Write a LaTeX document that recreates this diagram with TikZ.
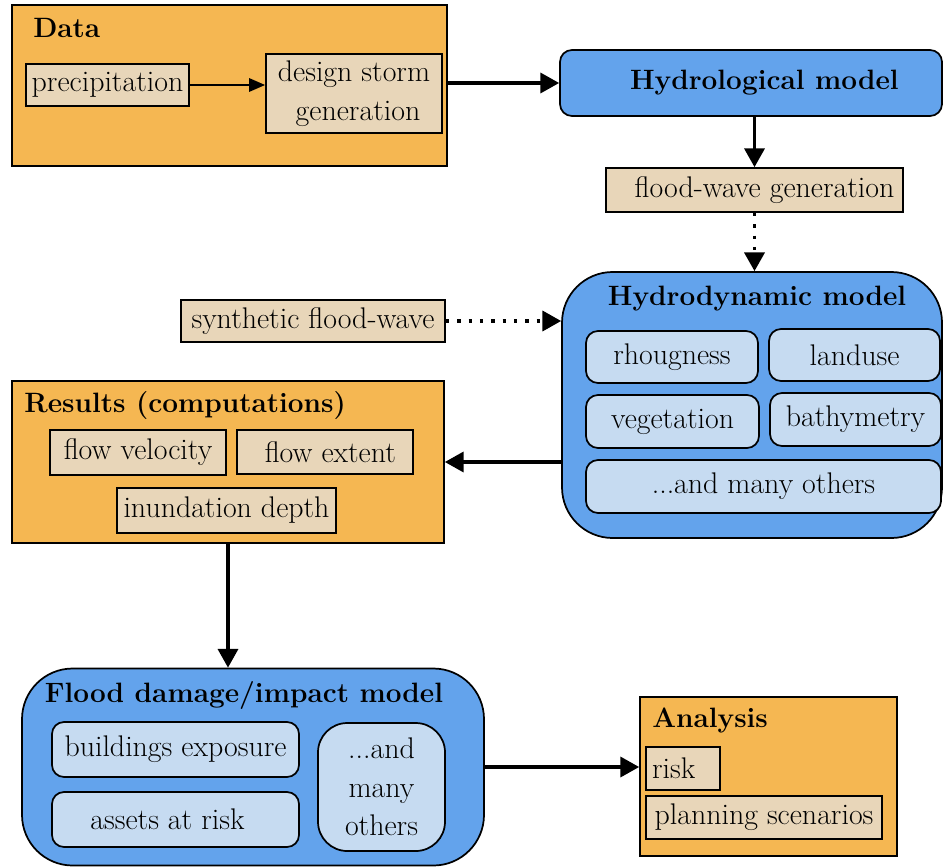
\documentclass[tikz,border=0pt]{standalone}
\usetikzlibrary{arrows.meta}
\definecolor{orangebox}{HTML}{F5B752}
\definecolor{tanbox}{HTML}{E8D6B9}
\definecolor{bluebox}{HTML}{63A3EC}
\definecolor{lightblue}{HTML}{C6DBF1}
\begin{document}
\begin{tikzpicture}[x=0.75pt,y=-0.75pt,
  every node/.style={font=\fontsize{22.4}{29}\selectfont, inner sep=0pt},
  group/.style={draw=black, line width=1.3pt, fill=orangebox},
  item/.style={draw=black, line width=1.3pt, fill=tanbox, align=center},
  model/.style={draw=black, line width=1.3pt, fill=bluebox},
  sub/.style={draw=black, line width=1.3pt, fill=lightblue, rounded corners=9pt, align=center},
  title/.style={font=\fontsize{21}{29}\selectfont\bfseries},
  flow/.style={line width=2.4pt, -{Triangle[length=14pt,width=15pt]}},
  thinflow/.style={line width=1.5pt, -{Triangle[length=12pt,width=10pt]}},
  dotflow/.style={line width=2.6pt, dash pattern=on 2.5pt off 6pt, -{Triangle[length=14pt,width=15pt]}}]
\useasboundingbox (0,0) rectangle (944,867);

% Data
\node[group, minimum width=435*0.75pt, minimum height=161*0.75pt] (data) at (229.5,85.5) {};
\node[title, anchor=west] (datat) at (33,28) {Data};
\node[item, minimum width=163*0.75pt, minimum height=42*0.75pt] (precip) at (107.5,85) {precipitation};
\node[item, minimum width=176*0.75pt, minimum height=79*0.75pt] (design) at (354,93.5) {design storm\\ \hspace*{6pt}generation};

% Hydrological
\node[model, rounded corners=9pt, minimum width=382*0.75pt, minimum height=66*0.75pt, title] (hydrol) at (751,83) {\hspace*{20pt}Hydrological model};
\node[item, minimum width=297*0.75pt, minimum height=44*0.75pt] (fw) at (754.5,190) {\hspace*{15pt}flood-wave generation};

% Hydrodynamic
\node[model, rounded corners=38pt, minimum width=380*0.75pt, minimum height=266*0.75pt] (hydrodyn) at (752,405) {};
\node[title] (hydrodynt) at (757,299) {Hydrodynamic model};
\node[sub, minimum width=172*0.75pt, minimum height=52*0.75pt] (rhoug) at (672,357) {rhougness};
\node[sub, minimum width=171*0.75pt, minimum height=52*0.75pt] (landuse) at (854.5,355) {landuse};
\node[sub, minimum width=173*0.75pt, minimum height=53*0.75pt] (veget) at (672.5,421.5) {vegetation};
\node[sub, minimum width=171*0.75pt, minimum height=53*0.75pt] (bathy) at (855.5,419.5) {bathymetry};
\node[sub, minimum width=355*0.75pt, minimum height=53*0.75pt] (others) at (763.5,486.5) {...and many others};

\node[item, minimum width=264*0.75pt, minimum height=42*0.75pt] (synth) at (313,321) {synthetic flood-wave};

% Results
\node[group, minimum width=432*0.75pt, minimum height=162*0.75pt] (results) at (228,462) {};
\node[title, anchor=west] (resultst) at (24,406) {Results (computations)};
\node[item, minimum width=176*0.75pt, minimum height=45*0.75pt] (fv) at (138,452.5) {flow velocity};
\node[item, minimum width=176*0.75pt, minimum height=44*0.75pt] (fe) at (325,452) {\hspace*{8pt}flow extent};
\node[item, minimum width=219*0.75pt, minimum height=45*0.75pt] (id) at (226.5,510.5) {inundation depth};

% Flood damage
\node[model, rounded corners=38pt, minimum width=462*0.75pt, minimum height=197*0.75pt] (flood) at (253,767) {};
\node[title] (floodt) at (244,695) {Flood damage/impact model};
\node[sub, minimum width=247*0.75pt, minimum height=55*0.75pt] (be) at (175.5,749.5) {buildings exposure};
\node[sub, minimum width=247*0.75pt, minimum height=55*0.75pt] (ar) at (175.5,819.5) {\hspace*{-12pt}assets at risk};
\node[sub, rounded corners=22pt, minimum width=127*0.75pt, minimum height=128*0.75pt] (mo) at (381.5,787) {...and\\many\\others};

% Analysis
\node[group, minimum width=257*0.75pt, minimum height=159*0.75pt] (analysis) at (768.5,776.5) {};
\node[title, anchor=west] (analysist) at (652,720) {Analysis};
\node[item, minimum width=74*0.75pt, minimum height=43*0.75pt] (risk) at (683,768.5) {\hspace*{-14pt}risk};
\node[item, minimum width=236*0.75pt, minimum height=43*0.75pt] (ps) at (764,817.5) {planning scenarios};

% Connectors
\draw[thinflow] (precip.east) -- (precip.east -| design.west);
\draw[flow] (data.east |- hydrol.west) -- (hydrol.west);
\draw[flow] (hydrol.south -| fw.north) -- (fw.north);
\draw[dotflow] (fw.south) -- (fw.south |- hydrodyn.north);
\draw[dotflow] (synth.east) -- (synth.east -| hydrodyn.west);
\draw[flow] (results.east -| hydrodyn.west) -- (results.east);
\draw[flow] (results.south) -- (results.south |- flood.north);
\draw[flow] (flood.east) -- (flood.east -| analysis.west);
\end{tikzpicture}
\end{document}
